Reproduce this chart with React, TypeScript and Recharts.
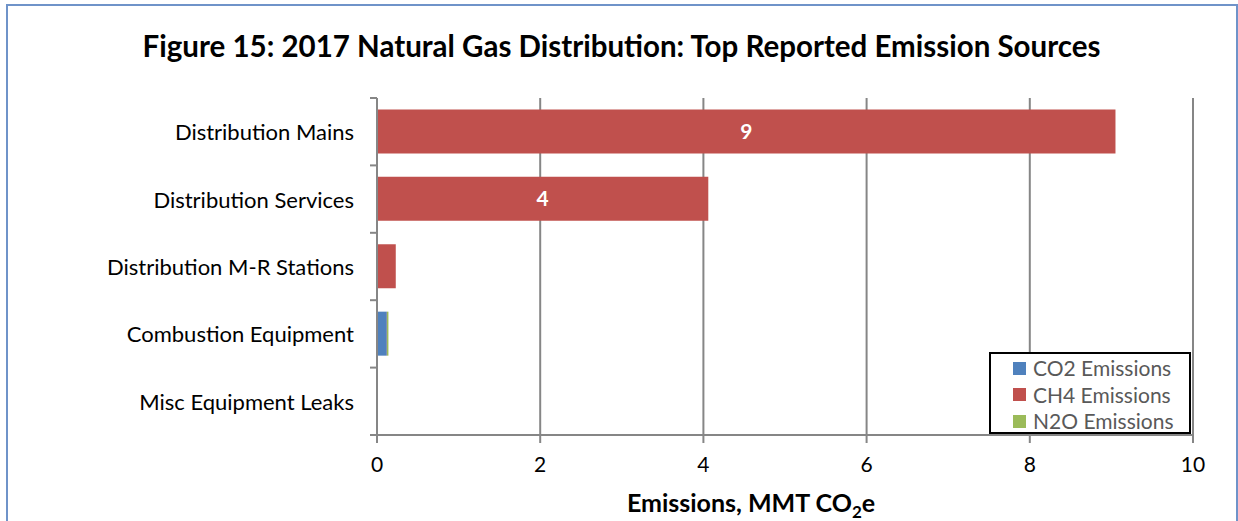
import React from 'react';
import { BarChart, Bar, XAxis, YAxis, CartesianGrid, LabelList } from 'recharts';

const categories = [
  'Distribution Mains',
  'Distribution Services',
  'Distribution M-R Stations',
  'Combustion Equipment',
  'Misc Equipment Leaks',
];
const co2Values = [0, 0, 0, 0.12, 0];
const ch4Values = [9.05, 4.06, 0.23, 0.002, 0.002];
const n2oValues = [0, 0, 0, 0.018, 0];
const xTicks = [0, 2, 4, 6, 8, 10];
const seriesNames = ['CO2 Emissions', 'CH4 Emissions', 'N2O Emissions'];
const seriesColors = ['#4F81BD', '#C0504D', '#9BBB59'];

const data = categories.map((c, i) => ({
  name: c,
  co2: co2Values[i],
  ch4: ch4Values[i],
  n2o: n2oValues[i],
}));

const FONT = 'Lato, "Open Sans", sans-serif';
const W = 1238;
const H = 521;
const MARGIN = { top: 98, right: 45, bottom: 0, left: 0 };
const X_AXIS_H = 86;
const BAND = (H - MARGIN.top - MARGIN.bottom - X_AXIS_H) / categories.length;

const YTick = (props: any) => {
  const { x, y, payload, index } = props;
  return (
    <g>
      <line x1={x - 7} x2={x} y1={y - BAND / 2} y2={y - BAND / 2} stroke="#868686" strokeWidth={2} />
      {index === categories.length - 1 && (
        <line x1={x - 7} x2={x} y1={y + BAND / 2} y2={y + BAND / 2} stroke="#868686" strokeWidth={2} />
      )}
      <text x={x - 23} y={y} textAnchor="end" dominantBaseline="central" fontSize={22} fill="#000" fontFamily={FONT}>
        {payload.value}
      </text>
    </g>
  );
};

const LegendBox = () => (
  <div
    style={{
      position: 'absolute',
      left: 989,
      top: 352,
      border: '2px solid #000',
      background: '#fff',
      width: 202,
      height: 82,
      boxSizing: 'border-box',
      padding: '1px 0 0 22px',
      fontFamily: FONT,
    }}
  >
    {seriesNames.map((n, i) => (
      <div key={n} style={{ display: 'flex', alignItems: 'center', height: 26.5 }}>
        <div style={{ width: 13, height: 13, background: seriesColors[i], marginRight: 7 }} />
        <span style={{ fontSize: 21, color: '#595959', lineHeight: '22px' }}>{n}</span>
      </div>
    ))}
  </div>
);

export default function App() {
  return (
    <div style={{ position: 'absolute', left: 0, top: 0, width: W, height: H, background: '#fff', overflow: 'hidden' }}>
      <div
        style={{
          position: 'absolute',
          left: 6,
          top: 4,
          width: W - 6,
          height: 600,
          border: '2px solid #6F93C9',
          boxSizing: 'border-box',
        }}
      />
      <div
        style={{
          position: 'absolute',
          left: 0,
          top: 26,
          width: 1243,
          textAlign: 'center',
          fontFamily: FONT,
          fontWeight: 700,
          fontSize: 29.5,
          color: '#000',
          lineHeight: '40px',
        }}
      >
        Figure 15: 2017 Natural Gas Distribution: Top Reported Emission Sources
      </div>
      <div style={{ position: 'absolute', left: 0, top: 0 }}>
        <BarChart
          width={W}
          height={H}
          data={data}
          layout="vertical"
          margin={MARGIN}
          barCategoryGap="17%"
        >
          <CartesianGrid horizontal={false} vertical stroke="#868686" strokeWidth={2} />
          <XAxis
            type="number"
            domain={[0, 10]}
            ticks={xTicks}
            height={X_AXIS_H}
            axisLine={{ stroke: '#868686', strokeWidth: 2 }}
            tickLine={{ stroke: '#868686', strokeWidth: 2 }}
            tickSize={8}
            tickMargin={14}
            tick={{ fontSize: 21, fill: '#000', fontFamily: FONT }}
          />
          <YAxis
            type="category"
            dataKey="name"
            width={377}
            axisLine={{ stroke: '#868686', strokeWidth: 2 }}
            tickLine={false}
            tickSize={0}
            tickMargin={0}
            tick={<YTick />}
            interval={0}
          />
          <Bar dataKey="co2" name={seriesNames[0]} stackId="a" fill={seriesColors[0]} isAnimationActive={false} />
          <Bar dataKey="ch4" name={seriesNames[1]} stackId="a" fill={seriesColors[1]} isAnimationActive={false}>
            <LabelList
              dataKey="ch4"
              position="center"
              formatter={(v: any) => (v >= 1 ? String(Math.round(v)) : '')}
              fill="#fff"
              fontSize={21}
              fontWeight={700}
              fontFamily={FONT}
            />
          </Bar>
          <Bar dataKey="n2o" name={seriesNames[2]} stackId="a" fill={seriesColors[2]} isAnimationActive={false} />
        </BarChart>
      </div>
      <LegendBox />
      <div
        style={{
          position: 'absolute',
          left: 500,
          top: 487,
          width: 502,
          textAlign: 'center',
          fontFamily: FONT,
          fontWeight: 700,
          fontSize: 25,
          color: '#000',
          lineHeight: '30px',
        }}
      >
        Emissions, MMT CO<sub style={{ fontSize: 17, verticalAlign: '-6px', lineHeight: 0 }}>2</sub>e
      </div>
    </div>
  );
}
